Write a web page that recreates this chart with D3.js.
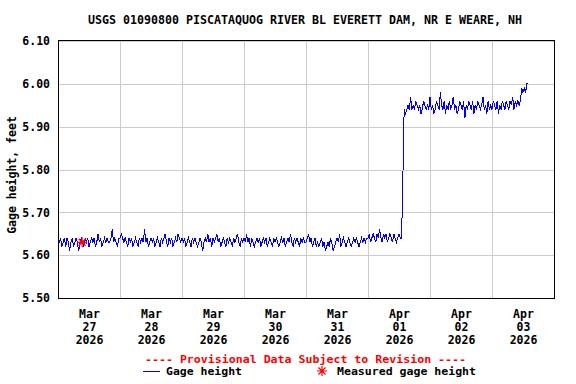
<!DOCTYPE html>
<html>
<head>
<meta charset="utf-8">
<script src="https://cdn.jsdelivr.net/npm/d3@7"></script>
<style>
  body { margin: 0; background: #fff; }
  text { font-family: 'DejaVu Sans Mono', monospace; font-weight: bold; font-size: 11px; }
</style>
</head>
<body>
<div id="chart"></div>
<script>
// Gage height (feet), one reading every 30 minutes starting at midnight
let mar27 = [5.63,5.63,5.64,5.62,5.63,5.64,5.62,5.64,5.63,5.61,5.63,5.64,5.62,5.63,5.64,5.63,5.61,5.63,5.64,5.63,5.62,5.64,5.63,5.64,
             5.62,5.63,5.64,5.63,5.64,5.62,5.63,5.65,5.63,5.64,5.62,5.63,5.64,5.63,5.64,5.63,5.63,5.64,5.66,5.63,5.64,5.63,5.62,5.64];
let mar28 = [5.64,5.65,5.64,5.63,5.64,5.63,5.62,5.64,5.63,5.64,5.62,5.63,5.64,5.63,5.62,5.64,5.63,5.64,5.63,5.66,5.63,5.64,5.62,5.63,
             5.64,5.63,5.64,5.62,5.63,5.64,5.63,5.62,5.64,5.63,5.64,5.65,5.63,5.62,5.64,5.63,5.64,5.62,5.63,5.64,5.63,5.65,5.64,5.63];
let mar29 = [5.64,5.63,5.64,5.62,5.63,5.64,5.63,5.62,5.64,5.63,5.64,5.63,5.62,5.63,5.64,5.63,5.61,5.63,5.64,5.63,5.65,5.63,5.64,5.62,
             5.64,5.63,5.64,5.65,5.63,5.64,5.62,5.63,5.64,5.63,5.62,5.64,5.63,5.64,5.63,5.62,5.64,5.63,5.64,5.65,5.63,5.62,5.64,5.63];
let mar30 = [5.64,5.63,5.65,5.63,5.64,5.62,5.64,5.63,5.62,5.63,5.64,5.63,5.64,5.62,5.63,5.64,5.63,5.64,5.62,5.63,5.64,5.63,5.62,5.64,
             5.63,5.64,5.63,5.62,5.63,5.64,5.63,5.64,5.62,5.63,5.64,5.63,5.65,5.63,5.62,5.64,5.63,5.64,5.63,5.62,5.64,5.63,5.64,5.63];
let mar31 = [5.63,5.64,5.65,5.63,5.64,5.62,5.63,5.64,5.62,5.63,5.62,5.63,5.64,5.62,5.63,5.61,5.62,5.63,5.62,5.64,5.63,5.61,5.62,5.63,
             5.64,5.63,5.65,5.62,5.63,5.64,5.63,5.62,5.63,5.64,5.63,5.62,5.63,5.64,5.63,5.64,5.63,5.62,5.63,5.64,5.63,5.64,5.63,5.64];
let apr01 = [5.64,5.65,5.63,5.64,5.65,5.64,5.63,5.65,5.64,5.66,5.64,5.63,5.65,5.64,5.65,5.63,5.64,5.65,5.64,5.63,5.65,5.64,5.63,5.64,
             5.65,5.64,5.64,5.78,5.94,5.93,5.94,5.95,5.94,5.97,5.94,5.95,5.94,5.96,5.95,5.94,5.95,5.93,5.94,5.96,5.95,5.94,5.95,5.94];
let apr02 = [5.97,5.94,5.95,5.93,5.94,5.96,5.95,5.94,5.98,5.95,5.94,5.96,5.93,5.95,5.94,5.96,5.94,5.95,5.97,5.94,5.95,5.93,5.94,5.96,
             5.95,5.94,5.96,5.92,5.95,5.94,5.96,5.95,5.94,5.96,5.93,5.95,5.94,5.96,5.95,5.94,5.95,5.97,5.94,5.95,5.93,5.96,5.94,5.95];
let apr03 = [5.94,5.96,5.95,5.94,5.96,5.93,5.95,5.94,5.96,5.95,5.94,5.96,5.95,5.94,5.96,5.95,5.97,5.94,5.96,5.95,5.96,5.95,5.96,5.99,
             5.98,5.99,5.98,6.00,6.00];

let days = ['2026-03-27','2026-03-28','2026-03-29','2026-03-30','2026-03-31','2026-04-01','2026-04-02','2026-04-03'];
let dayValues = [mar27, mar28, mar29, mar30, mar31, apr01, apr02, apr03];
let dayMonths = ['Mar','Mar','Mar','Mar','Mar','Apr','Apr','Apr'];
let dayNums = ['27','28','29','30','31','01','02','03'];
let yTicks = [5.50, 5.60, 5.70, 5.80, 5.90, 6.00, 6.10];

let measuredTimes = ['2026-03-27T09:20'];
let measuredValues = [5.63];

const W = 576, H = 384;
const plotLeft = 58, plotRight = 554, plotTop = 41, plotBottom = 298;

const parseDay = d3.utcParse('%Y-%m-%d');
const parseTime = d3.utcParse('%Y-%m-%dT%H:%M');

// build readings
let data = [];
dayValues.forEach((vals, i) => {
    let start = parseDay(days[i]);
    vals.forEach((v, j) => {
        data.push({date: d3.utcMinute.offset(start, j * 30), value: v});
    });
});

const svg = d3.select('#chart')
    .append('svg')
    .attr('width', W)
    .attr('height', H);

const x = d3.scaleUtc()
    .domain([parseDay(days[0]), d3.utcDay.offset(parseDay(days[days.length - 1]), 1)])
    .range([plotLeft, plotRight]);

const y = d3.scaleLinear()
    .domain([5.50, 6.10])
    .range([plotBottom, plotTop]);

// title
svg.append('text')
    .attr('x', 88)
    .attr('y', 24)
    .attr('textLength', 434)
    .attr('lengthAdjust', 'spacingAndGlyphs')
    .style('font-size', '11.5px')
    .text('USGS 01090800 PISCATAQUOG RIVER BL EVERETT DAM, NR E WEARE, NH');

// gridlines
svg.append('g')
    .selectAll('line')
    .data(yTicks)
    .join('line')
    .attr('x1', plotLeft)
    .attr('x2', plotRight)
    .attr('y1', d => Math.round(y(d)) + 0.5)
    .attr('y2', d => Math.round(y(d)) + 0.5)
    .attr('stroke', '#cccccc');

svg.append('g')
    .selectAll('line')
    .data(days.slice(1).map(parseDay))
    .join('line')
    .attr('x1', d => Math.round(x(d)) + 0.5)
    .attr('x2', d => Math.round(x(d)) + 0.5)
    .attr('y1', plotTop - 1)
    .attr('y2', plotBottom + 1)
    .attr('stroke', '#cccccc');

// plot frame
svg.append('rect')
    .attr('x', plotLeft + 0.5)
    .attr('y', plotTop - 0.5)
    .attr('width', plotRight - plotLeft)
    .attr('height', plotBottom - plotTop + 1)
    .attr('fill', 'none')
    .attr('stroke', '#000');

// y axis
const gY = svg.append('g')
    .attr('transform', 'translate(' + (plotLeft - 3) + ',0)')
    .call(d3.axisLeft(y).tickValues(yTicks).tickFormat(d3.format('.2f')).tickSize(0).tickPadding(5));
gY.select('.domain').remove();
gY.selectAll('text')
    .style('font-family', "'DejaVu Sans Mono', monospace")
    .style('font-size', '11.5px')
    .style('font-weight', 'bold')
    .attr('fill', '#000');

svg.append('text')
    .attr('transform', 'translate(16,175) rotate(-90)')
    .attr('text-anchor', 'middle')
    .style('font-size', '11.5px')
    .text('Gage height, feet');

// x axis, labels at noon of each day
const gX = svg.append('g')
    .attr('transform', 'translate(0,' + (plotBottom + 1) + ')')
    .call(d3.axisBottom(x)
        .tickValues(days.map(d => d3.utcHour.offset(parseDay(d), 12)))
        .tickSize(0)
        .tickFormat(''));
gX.select('.domain').remove();
gX.selectAll('.tick text').remove();
gX.selectAll('.tick').each(function(d, i) {
    let t = d3.select(this).append('text')
        .attr('text-anchor', 'middle')
        .attr('fill', '#000')
        .style('font-family', "'DejaVu Sans Mono', monospace")
        .style('font-size', '11.5px')
        .style('font-weight', 'bold');
    [dayMonths[i], dayNums[i], '2026'].forEach((s, k) => {
        t.append('tspan').attr('x', 0).attr('y', 19 + k * 13).text(s);
    });
});

// data line
const line = d3.line()
    .x(d => x(d.date))
    .y(d => y(d.value));

svg.append('path')
    .datum(data)
    .attr('fill', 'none')
    .attr('stroke', '#0000ff')
    .attr('stroke-width', 1)
    .attr('shape-rendering', 'crispEdges')
    .attr('d', line);

// measured points
function asterisk(r) {
    let p = d3.path();
    for (let a = 0; a < 4; a++) {
        let ang = a * Math.PI / 4;
        p.moveTo(-r * Math.cos(ang), -r * Math.sin(ang));
        p.lineTo(r * Math.cos(ang), r * Math.sin(ang));
    }
    return p.toString();
}

svg.append('g')
    .selectAll('path')
    .data(measuredTimes.map((t, i) => ({date: parseTime(t), value: measuredValues[i]})))
    .join('path')
    .attr('transform', d => 'translate(' + x(d.date) + ',' + y(d.value) + ')')
    .attr('d', asterisk(5))
    .attr('stroke', '#ff0000')
    .attr('stroke-width', 1.2)
    .attr('fill', 'none');

// provisional note
svg.append('text')
    .attr('x', 145)
    .attr('y', 363)
    .attr('fill', '#ff0000')
    .attr('textLength', 321)
    .attr('lengthAdjust', 'spacingAndGlyphs')
    .text('---- Provisional Data Subject to Revision ----');

// legend
svg.append('line')
    .attr('x1', 143).attr('x2', 160)
    .attr('y1', 371.5).attr('y2', 371.5)
    .attr('stroke', '#0000ff');
svg.append('text')
    .attr('x', 166)
    .attr('y', 375)
    .attr('textLength', 76)
    .attr('lengthAdjust', 'spacingAndGlyphs')
    .text('Gage height');

svg.append('path')
    .attr('transform', 'translate(322,371)')
    .attr('d', asterisk(5))
    .attr('stroke', '#ff0000')
    .attr('stroke-width', 1.2)
    .attr('fill', 'none');
svg.append('text')
    .attr('x', 337)
    .attr('y', 375)
    .attr('textLength', 139)
    .attr('lengthAdjust', 'spacingAndGlyphs')
    .text('Measured gage height');
</script>
</body>
</html>
